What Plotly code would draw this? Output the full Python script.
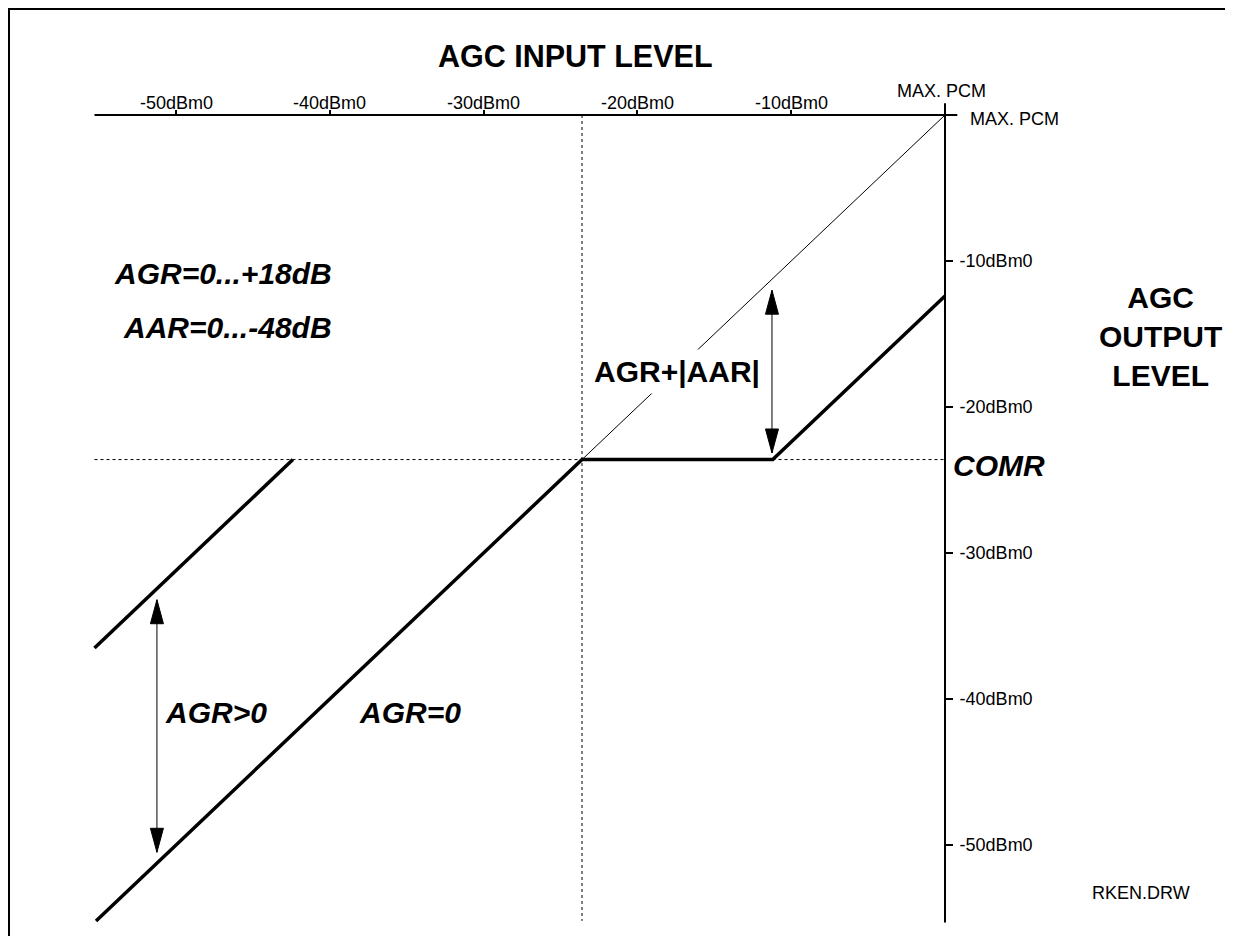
import plotly.graph_objects as go

# page is offset by the 8px body margin, so the figure is a bit smaller
PAD = 8
W, H = 1233 - PAD, 936 - PAD

# compression level (dBm0)
comr = -23.6

x_ticks = [-50, -40, -30, -20, -10]
x_tick_text = ["-50dBm0", "-40dBm0", "-30dBm0", "-20dBm0", "-10dBm0"]
y_ticks = [-10, -20, -30, -40, -50]
y_tick_text = ["-10dBm0", "-20dBm0", "-30dBm0", "-40dBm0", "-50dBm0"]

# AGR=0 characteristic: input level -> output level
agr0_in = [-55.2, -23.6, -11.2, 0.0]
agr0_out = [-55.2, -23.6, -23.6, -12.4]

# AGR>0 characteristic
agrp_in = [-55.3, -42.4]
agrp_out = [-36.5, -23.6]

# output = input reference
ref_in = [-23.6, 0.0]
ref_out = [-23.6, 0.0]

# double arrows: x, y top tip, y bottom tip
arrow_agr = (-51.24, -33.2, -50.5)
arrow_aar = (-11.25, -12.0, -23.15)

# axis extents
x_lo, x_hi = -55.3, 0.8
y_lo, y_hi = -55.3, 0.8

# pixel scale (px per dB) and origin on the page
sx, sy = 15.38, 14.6
ox, oy = 945, 115

FONT = "Liberation Sans, Arial, sans-serif"
SMALL = 18
BIG = 30


def pp(xp, yp):
    return (xp - PAD) / W, 1 - (yp - PAD) / H


def line(x, y, width=1, dash="solid"):
    return go.Scatter(x=x, y=y, mode="lines", hoverinfo="skip", showlegend=False,
                      line=dict(color="black", width=width, dash=dash))


def head(x, tip, up):
    hl, hw = 24 / sy, 6.5 / sx
    base = tip - hl if up else tip + hl
    return go.Scatter(x=[x, x - hw, x + hw, x], y=[tip, base, base, tip], mode="lines",
                      fill="toself", fillcolor="black", hoverinfo="skip", showlegend=False,
                      line=dict(color="black", width=1))


fig = go.Figure()

# axes
fig.add_trace(line([x_lo, x_hi], [0, 0], width=2))
fig.add_trace(line([0, 0], [y_hi, y_lo], width=2))

# dotted guides at COMR
fig.add_trace(line([x_lo, 0], [comr, comr], width=1, dash="dot"))
fig.add_trace(line([comr, comr], [0, -55.2], width=1, dash="dot"))

# reference diagonal
fig.add_trace(line(ref_in, ref_out, width=1))

# characteristics
fig.add_trace(line(agr0_in, agr0_out, width=3.5))
fig.add_trace(line(agrp_in, agrp_out, width=3.5))

# arrows
for ax_x, top, bot in [arrow_agr, arrow_aar]:
    fig.add_trace(line([ax_x, ax_x], [top, bot], width=1))
    fig.add_trace(head(ax_x, top, up=True))
    fig.add_trace(head(ax_x, bot, up=False))

fig.update_layout(
    width=W, height=H,
    margin=dict(l=0, r=0, t=0, b=0),
    paper_bgcolor="white", plot_bgcolor="white",
    font=dict(family=FONT, color="black"),
    showlegend=False,
    xaxis=dict(range=[(PAD - ox) / sx, (1233 - ox) / sx], domain=[0, 1], anchor="free",
               position=1 - (oy - PAD) / H, side="top", showline=False, showgrid=False,
               zeroline=False, tickvals=x_ticks, showticklabels=False,
               ticks="outside", ticklen=5, tickwidth=2, tickcolor="black"),
    yaxis=dict(range=[-(936 - oy) / sy, (oy - PAD) / sy], domain=[0, 1], anchor="free",
               position=(ox - PAD) / W, side="right", showline=False, showgrid=False,
               zeroline=False, tickvals=y_ticks, ticktext=y_tick_text,
               ticks="outside", ticklen=7, tickwidth=2, tickcolor="black",
               tickfont=dict(size=SMALL, family=FONT, color="black"),
               ticklabelstandoff=3),
)

# frame
fig.add_shape(type="rect", xref="paper", yref="paper",
              x0=1 / W, x1=1.02, y0=-0.02, y1=1 - 1 / H,
              line=dict(color="black", width=2))

# x tick labels above the top axis
for v, t in zip(x_ticks, x_tick_text):
    fig.add_annotation(text=t, x=v, xref="x", y=pp(0, 103)[1], yref="paper",
                       xanchor="center", yanchor="middle", showarrow=False,
                       font=dict(size=SMALL, family=FONT, color="black"))


def label(text, xp, yp, size, bold=True, italic=False, xanchor="center", **kw):
    x, y = pp(xp, yp)
    fig.add_annotation(text=text, x=x, y=y, xref="paper", yref="paper",
                       xanchor=xanchor, yanchor="middle", showarrow=False,
                       font=dict(size=size, family=FONT, color="black",
                                 weight="bold" if bold else "normal",
                                 style="italic" if italic else "normal"), **kw)


label("AGC INPUT LEVEL", 575, 56, 30.5)
label("MAX. PCM", 941, 91, SMALL, bold=False)
label("MAX. PCM", 968, 119, SMALL, bold=False, xanchor="left")
label("AGR=0...+18dB", 223, 273, BIG, italic=True)
label("AAR=0...-48dB", 227, 327, BIG, italic=True)
label("AGR+|AAR|", 677, 371, BIG, bgcolor="white", borderpad=5)
label("AGC<br>OUTPUT<br>LEVEL", 1160, 336, BIG)
label("COMR", 999, 465, BIG, italic=True)
label("AGR>0", 216, 712, BIG, italic=True)
label("AGR=0", 410, 712, BIG, italic=True)
label("RKEN.DRW", 1192, 893, SMALL, bold=False, xanchor="right")

fig.write_html("out.html")
